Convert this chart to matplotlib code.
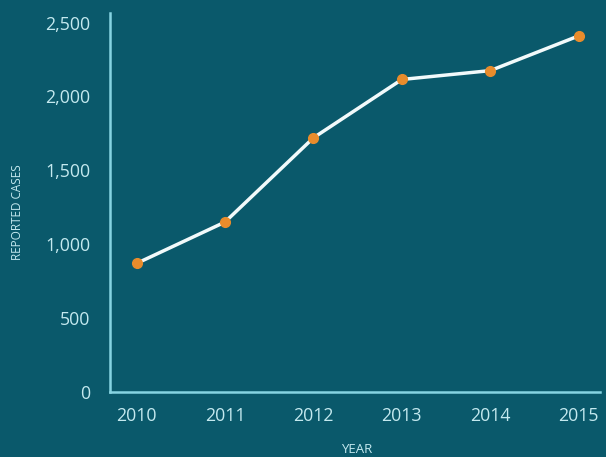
import matplotlib
matplotlib.use("Agg")
import matplotlib.pyplot as plt

# data
years = [2010, 2011, 2012, 2013, 2014, 2015]
cases = [870, 1150, 1720, 2115, 2175, 2410]
y_ticks = [0, 500, 1000, 1500, 2000, 2500]
y_tick_labels = ["0", "500", "1,000", "1,500", "2,000", "2,500"]

bg = "#0a596b"
axis_col = "#86d4e2"
text_col = "#c4e9ef"

plt.rcParams["font.family"] = ["Open Sans", "DejaVu Sans"]

fig = plt.figure(figsize=(6.06, 4.57), dpi=100, facecolor=bg)
ax = fig.add_axes([0.1815, 0.1422, 0.8085, 0.8294], facecolor=bg)

ax.plot(years, cases, color="#f2fafb", linewidth=2.5, zorder=2)
ax.plot(years, cases, linestyle="none", marker="o", markersize=7,
        color="#e88c2c", zorder=3)

ax.set_xlim(2009.7, 2015.24)
ax.set_ylim(0, 2565)
ax.set_xticks(years)
ax.set_xticklabels([str(y) for y in years])
ax.set_yticks(y_ticks)
ax.set_yticklabels(y_tick_labels)

for s in ["top", "right"]:
    ax.spines[s].set_visible(False)
for s in ["left", "bottom"]:
    ax.spines[s].set_color(axis_col)
    ax.spines[s].set_linewidth(1.8)

ax.tick_params(axis="both", length=0, colors=text_col, labelsize=12.8)
ax.tick_params(axis="y", pad=14)
ax.tick_params(axis="x", pad=11)

fig.text(0.029, 0.536, "REPORTED CASES", rotation=90, color=text_col,
         fontsize=8.5, ha="center", va="center")
fig.text(0.589, 0.017, "YEAR", color=text_col, fontsize=9.5,
         ha="center", va="center")

plt.savefig("out.png", dpi=100, facecolor=bg)
